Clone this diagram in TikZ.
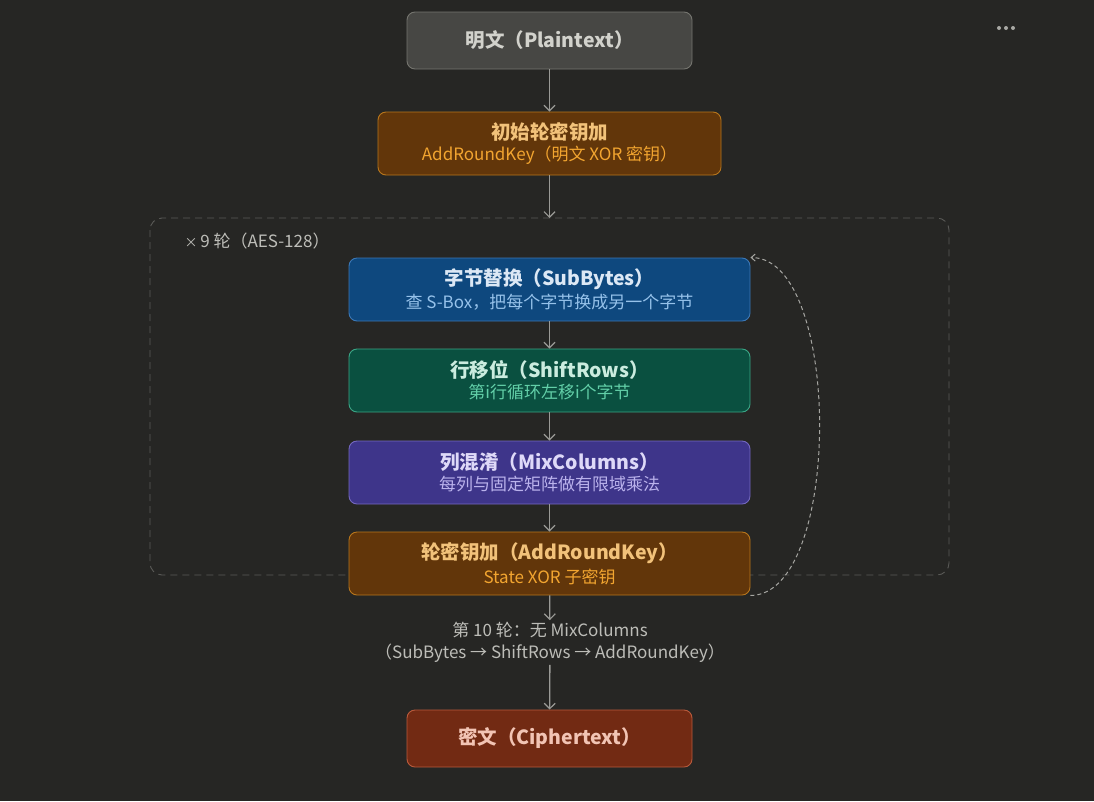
\documentclass[tikz,border=0pt]{standalone}
\usepackage{fontspec}
\setmainfont{Noto Sans CJK SC}
\usetikzlibrary{arrows.meta}
\definecolor{bg}{HTML}{262624}
\definecolor{arrowc}{HTML}{9A9A96}
\definecolor{grpc}{HTML}{5A5A57}
\definecolor{labc}{HTML}{BDBDB8}
\definecolor{ptfill}{HTML}{474744}
\definecolor{ptdraw}{HTML}{75756F}
\definecolor{pttext}{HTML}{D2D2CC}
\definecolor{akfill}{HTML}{62360A}
\definecolor{akdraw}{HTML}{B8761C}
\definecolor{aktitle}{HTML}{F2C27A}
\definecolor{aksub}{HTML}{F2A530}
\definecolor{sbfill}{HTML}{0E487E}
\definecolor{sbdraw}{HTML}{3C78B6}
\definecolor{sbtitle}{HTML}{DCE8F5}
\definecolor{sbsub}{HTML}{96C2EA}
\definecolor{srfill}{HTML}{0A5040}
\definecolor{srdraw}{HTML}{3AA686}
\definecolor{srtitle}{HTML}{CBECDF}
\definecolor{srsub}{HTML}{62CFA8}
\definecolor{mcfill}{HTML}{3E358A}
\definecolor{mcdraw}{HTML}{7468C0}
\definecolor{mctitle}{HTML}{DED9F8}
\definecolor{mcsub}{HTML}{BAB2EC}
\definecolor{ctfill}{HTML}{722A13}
\definecolor{ctdraw}{HTML}{BA5A3C}
\definecolor{cttext}{HTML}{F2C4B4}
\definecolor{dotc}{HTML}{A8A8A4}
\tikzset{
  box/.style={rectangle, rounded corners=8pt, line width=0.9pt, inner sep=0pt, align=center},
  wide/.style={box, minimum width=401pt, minimum height=63pt},
  flow/.style={draw=arrowc, line width=1.3pt, -{Straight Barb[length=5.5pt,width=11pt,line width=1.2pt]}},
  ttl/.style={font=\fontsize{19.5}{23}\selectfont\bfseries},
}
\newcommand{\twol}[4]{{\fontsize{19.5}{21}\selectfont\bfseries\color{#1}#2}\\[4pt]{\fontsize{17}{19}\selectfont\color{#3}#4}}
\begin{document}
\begin{tikzpicture}[x=1pt,y=-1pt]
\fill[bg] (0,0) rectangle (1094,801);
\useasboundingbox (0,0) rectangle (1094,801);

% dashed group
\draw[grpc, line width=0.9pt, dash pattern=on 7pt off 5pt, rounded corners=12pt] (150,218) rectangle (949,575);
\coordinate (gtop) at (549.5,218);
\node[anchor=west, text=labc, font=\fontsize{17}{20}\selectfont] (glab) at (181,241.5) {{\fontsize{13}{15}\selectfont ×}\,9 轮（AES-128）};

\node[box, fill=ptfill, draw=ptdraw, minimum width=285pt, minimum height=57pt, text=pttext, ttl] (pt) at (549.5,40.5) {明文（Plaintext）};
\node[box, fill=akfill, draw=akdraw, minimum width=343pt, minimum height=63pt] (ak0) at (549.5,143.5) {\twol{aktitle}{初始轮密钥加}{aksub}{AddRoundKey（明文 XOR 密钥）}};

\node[wide, fill=sbfill, draw=sbdraw] (sb) at (549.5,289.5) {\twol{sbtitle}{字节替换（SubBytes）}{sbsub}{查 S-Box，把每个字节换成另一个字节}};
\node[wide, fill=srfill, draw=srdraw] (sr) at (549.5,380.5) {\twol{srtitle}{行移位（ShiftRows）}{srsub}{第i行循环左移i个字节}};
\node[wide, fill=mcfill, draw=mcdraw] (mc) at (549.5,472.5) {\twol{mctitle}{列混淆（MixColumns）}{mcsub}{每列与固定矩阵做有限域乘法}};
\node[wide, fill=akfill, draw=akdraw] (ak) at (549.5,563.5) {\twol{aktitle}{轮密钥加（AddRoundKey）}{aksub}{State XOR 子密钥}};

\node[align=center, text=labc, font=\fontsize{17}{22}\selectfont, inner sep=2pt] (r10) at (550,642.5) {第 10 轮：无 MixColumns\\（SubBytes → ShiftRows → AddRoundKey）};

\node[box, fill=ctfill, draw=ctdraw, minimum width=285pt, minimum height=57pt, text=cttext, ttl] (ct) at (549.5,738.5) {密文（Ciphertext）};

\draw[flow] (pt) -- (ak0);
\draw[flow] (ak0) -- (gtop);
\draw[flow] (sb) -- (sr);
\draw[flow] (sr) -- (mc);
\draw[flow] (mc) -- (ak);
\draw[flow] (ak) -- (r10);
\draw[flow] (r10) -- (ct);

\draw[labc!85!bg, line width=1pt, dash pattern=on 4pt off 3pt, -{Straight Barb[length=4pt,width=7pt]}]
  (ak.south east) .. controls +(92,0) and +(92,0) .. (sb.north east);

\fill[dotc] (999,28) circle (2pt) coordinate (d1);
\fill[dotc] (1006,28) circle (2pt) coordinate (d2);
\fill[dotc] (1013,28) circle (2pt) coordinate (d3);
\end{tikzpicture}
\end{document}
